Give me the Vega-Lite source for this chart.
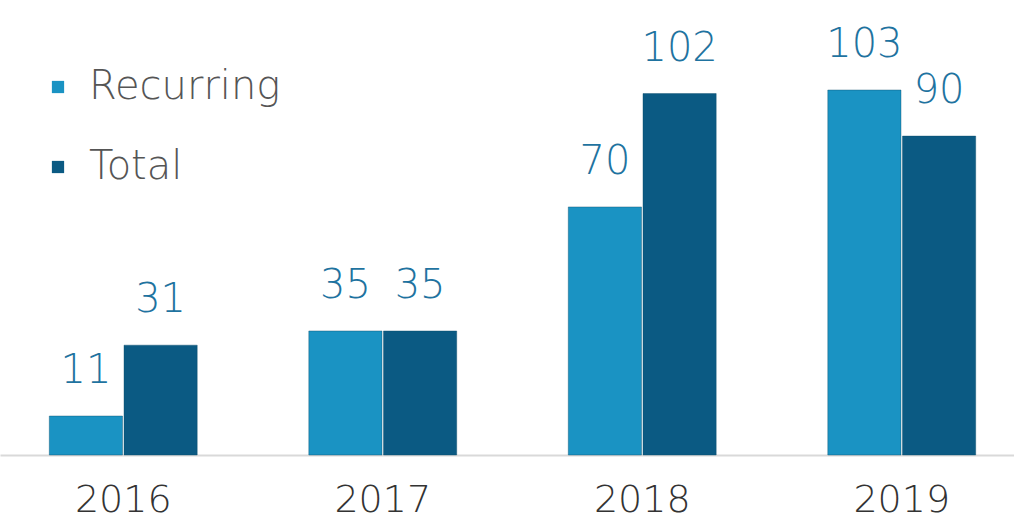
{
  "$schema": "https://vega.github.io/schema/vega-lite/v6.json",
  "width": 1014,
  "height": 455,
  "autosize": {"type": "none"},
  "padding": {"left": 0, "top": 0, "right": 0, "bottom": 71},
  "background": "white",
  "config": {
    "view": {"stroke": null},
    "font": "DejaVu Sans"
  },
  "data": {
    "values": [
      {"year": "2016", "series": "Recurring", "value": 11},
      {"year": "2016", "series": "Total", "value": 31},
      {"year": "2017", "series": "Recurring", "value": 35},
      {"year": "2017", "series": "Total", "value": 35},
      {"year": "2018", "series": "Recurring", "value": 70},
      {"year": "2018", "series": "Total", "value": 102},
      {"year": "2019", "series": "Recurring", "value": 103},
      {"year": "2019", "series": "Total", "value": 90}
    ]
  },
  "encoding": {
    "x": {
      "field": "year",
      "type": "nominal",
      "scale": {"range": [0, 1025], "paddingInner": 0.43, "paddingOuter": 0.19},
      "axis": {
        "title": null,
        "labelAngle": 0,
        "labelFontSize": 38,
        "labelFontWeight": 300,
        "labelColor": "#333333",
        "labelPadding": 26,
        "labelBaseline": "top",
        "ticks": false,
        "domainColor": "#d9d9d9",
        "domainWidth": 2
      }
    },
    "xOffset": {
      "field": "series",
      "type": "nominal",
      "scale": {"paddingInner": 0.02}
    },
    "y": {
      "field": "value",
      "type": "quantitative",
      "scale": {"domain": [0, 128.4], "nice": false},
      "axis": null
    }
  },
  "layer": [
    {
      "mark": {"type": "bar", "stroke": "#0a4a6a", "strokeWidth": 1, "strokeOpacity": 0.4},
      "encoding": {
        "color": {
          "field": "series",
          "type": "nominal",
          "scale": {"domain": ["Recurring", "Total"], "range": ["#1a93c3", "#0b5a83"]},
          "legend": {
            "title": null,
            "orient": "none",
            "legendX": 38,
            "legendY": 67,
            "symbolType": "square",
            "symbolSize": 150,
            "symbolStrokeWidth": 0,
            "labelFontSize": 40,
            "labelFontWeight": 300,
            "labelColor": "#555555",
            "labelOffset": 11,
            "labelLimit": 400,
            "rowPadding": 40
          }
        }
      }
    },
    {
      "mark": {"type": "text", "baseline": "bottom", "dy": -25, "fontSize": 40, "fontWeight": 300, "color": "#1f73a0"},
      "encoding": {
        "text": {"field": "value", "type": "quantitative"}
      }
    }
  ]
}
